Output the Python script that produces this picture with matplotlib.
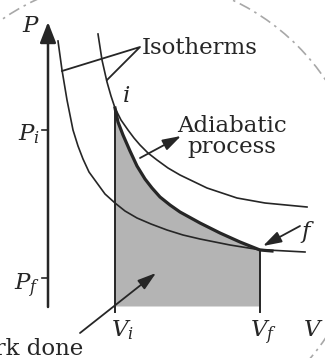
import matplotlib
matplotlib.use("Agg")
import numpy as np
import matplotlib.pyplot as plt
from matplotlib.patches import Circle

# curves (V, P in diagram units)
iso_low_v = [1.0, 1.4, 1.9, 2.5, 3.0, 3.5, 4.1, 4.9, 5.7, 6.7, 7.7, 8.9,
             10.3, 11.9, 13.5, 15.2, 18.2, 21.0, 25.7]
iso_low_p = [26.5, 23.6, 20.6, 17.6, 16.0, 14.7, 13.4, 12.3, 11.2, 10.3, 9.5, 8.8,
             8.2, 7.6, 7.1, 6.7, 6.1, 5.65, 5.4]

iso_high_v = [5.0, 5.4, 5.9, 6.3, 6.7, 7.3, 8.0, 8.6, 9.2, 10.0, 10.9, 12.0,
              13.2, 15.9, 18.9, 21.7, 25.9]
iso_high_p = [27.2, 24.6, 22.4, 21.0, 19.8, 18.6, 17.6, 16.8, 16.1, 15.3, 14.6, 13.8,
              13.1, 11.8, 10.8, 10.3, 9.9]

adiab_v = [6.7, 7.0, 7.5, 8.2, 8.9, 9.7, 10.4, 11.2, 12.2, 13.2, 15.2, 17.2,
           19.2, 21.2]
adiab_p = [19.8, 18.4, 17.1, 15.5, 14.0, 12.7, 11.8, 10.9, 10.1, 9.4, 8.3, 7.3,
           6.4, 5.6]

V_i, V_f = 6.7, 21.2
P_i, P_f = 17.6, 2.8

plt.rcParams['mathtext.fontset'] = 'dejavuserif'
plt.rcParams['font.family'] = 'DejaVu Serif'

fig = plt.figure(figsize=(3.25, 3.58), dpi=100)
ax = fig.add_axes([0, 0, 1, 1])
ax.set_xlim(-4.8, 27.7)
ax.set_ylim(-5.2, 30.6)
ax.axis('off')

ink = '#262626'

# background dashed circle from the page
ax.add_patch(Circle((8.6, 9.7), 23.1, fill=False, ec='#a8a8a8', lw=1.2,
                    ls=(0, (7, 3, 1.5, 3))))

# shaded work area
ax.fill_between(adiab_v, adiab_p, 0, color='#b4b4b4', lw=0)

# axes with arrows
axis_arrow = dict(arrowstyle='-|>,head_length=0.9,head_width=0.35',
                  color=ink, lw=1.8, mutation_scale=14, shrinkA=0, shrinkB=0)
ax.annotate('', xy=(0, 28.4), xytext=(0, -0.1), arrowprops=axis_arrow)
ax.annotate('', xy=(28.3, 0), xytext=(-0.1, 0), arrowprops=axis_arrow)

# curves
ax.plot(iso_low_v, iso_low_p, color=ink, lw=1.2, solid_joinstyle='round')
ax.plot(iso_high_v, iso_high_p, color=ink, lw=1.2, solid_joinstyle='round')
ax.plot(adiab_v + [22.4], adiab_p + [5.5], color=ink, lw=2.3,
        solid_joinstyle='round')

# Vi, Vf lines and P ticks
ax.plot([V_i, V_i], [adiab_p[0], -0.6], color=ink, lw=1.4)
ax.plot([V_f, V_f], [adiab_p[-1], -0.6], color=ink, lw=1.4)
ax.plot([-0.6, 0], [P_i, P_i], color=ink, lw=1.2)
ax.plot([-0.6, 0], [P_f, P_f], color=ink, lw=1.2)

# pointers
ax.plot([1.4, 9.2, 5.9], [23.5, 25.9, 22.6], color=ink, lw=1.3)
arrow = dict(arrowstyle='-|>,head_length=0.8,head_width=0.25', color=ink,
             lw=1.3, mutation_scale=14, shrinkA=0, shrinkB=0)
ax.annotate('', xy=(13.3, 17.0), xytext=(9.2, 14.8), arrowprops=arrow)
ax.annotate('', xy=(21.5, 6.0), xytext=(25.2, 8.0), arrowprops=arrow)
ax.annotate('', xy=(10.8, 3.3), xytext=(3.2, -2.7), arrowprops=arrow)

# labels
fs = 16.5
ax.text(9.4, 25.2, 'Isotherms', fontsize=fs, ha='left', va='baseline', color=ink)
ax.text(18.4, 17.4, 'Adiabatic', fontsize=fs, ha='center', va='baseline', color=ink)
ax.text(18.4, 15.3, 'process', fontsize=fs, ha='center', va='baseline', color=ink)
ax.text(3.5, -4.9, 'Work done', fontsize=fs, ha='right', va='baseline', color=ink)
ax.text(7.8, 21.0, '$i$', fontsize=fs, ha='center', va='center', color=ink)
ax.text(26.0, 7.4, '$f$', fontsize=fs, ha='center', va='center', color=ink)
ax.text(-1.7, 28.0, '$P$', fontsize=fs, ha='center', va='center', color=ink)
ax.text(-0.8, 17.2, '$P_i$', fontsize=fs, ha='right', va='center', color=ink)
ax.text(-0.8, 2.0, '$P_f$', fontsize=fs, ha='right', va='center', color=ink)
ax.text(7.4, -2.4, '$V_i$', fontsize=fs, ha='center', va='center', color=ink)
ax.text(21.5, -2.7, '$V_f$', fontsize=fs, ha='center', va='center', color=ink)
ax.text(25.5, -2.4, '$V$', fontsize=fs, ha='left', va='center', color=ink)

fig.savefig('out.png', dpi=100)
